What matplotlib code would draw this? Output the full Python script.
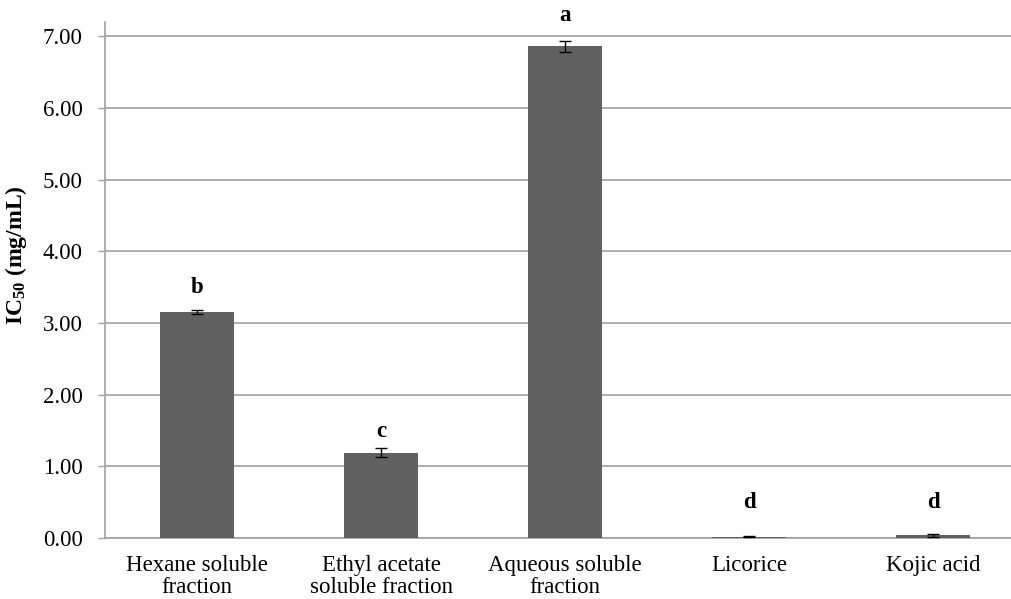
import matplotlib
matplotlib.use("Agg")
import matplotlib.pyplot as plt

plt.rcParams["mathtext.fontset"] = "custom"
plt.rcParams["mathtext.rm"] = "Liberation Serif:bold"
plt.rcParams["mathtext.it"] = "Liberation Serif:bold"
plt.rcParams["mathtext.bf"] = "Liberation Serif:bold"

categories = ["Hexane soluble\nfraction", "Ethyl acetate\nsoluble fraction",
              "Aqueous soluble\nfraction", "Licorice", "Kojic acid"]
values = [3.15, 1.19, 6.86, 0.02, 0.04]
errors = [0.03, 0.06, 0.08, 0.01, 0.02]
letters = ["b", "c", "a", "d", "d"]
yticks = [0, 1, 2, 3, 4, 5, 6, 7]

W, H = 1011, 599
fig = plt.figure(figsize=(W / 100, H / 100), dpi=100)
fig.patch.set_facecolor("white")
left, right, bottom, top = 105, 1025, 538, 22
ax = fig.add_axes([left / W, (H - bottom) / H, (right - left) / W, (bottom - top) / H])

serif = ["Liberation Serif", "DejaVu Serif"]
x = list(range(len(categories)))
ax.bar(x, values, width=0.4, color="#606060", zorder=3)
ax.errorbar(x, values, yerr=errors, fmt="none", ecolor="black",
            elinewidth=1.0, capsize=4, capthick=1.0, zorder=4)

letter_y = [3.49, 1.48, 7.29, 0.49, 0.49]
for xi, ly, lt in zip(x, letter_y, letters):
    ax.text(xi, ly, lt, ha="center", va="center", fontsize=16.5,
            fontweight="bold", family=serif, clip_on=False)

ax.set_xlim(-0.5, 4.5)
ax.set_ylim(0, 7.2)
ax.set_yticks(yticks)
ax.set_yticklabels([f"{v:.2f}" for v in yticks], family=serif, fontsize=16.5)
ax.set_xticks(x)
ax.set_xticklabels(categories, family=serif, fontsize=16.5, linespacing=1.08)
ax.tick_params(axis="x", length=0, pad=12)
ax.tick_params(axis="y", length=5, width=1, color="#a0a0a0", pad=11)
ax.yaxis.grid(True, color="#a0a0a0", linewidth=1.2, zorder=0)
ax.set_axisbelow(True)
for s in ["top", "right"]:
    ax.spines[s].set_visible(False)
ax.spines["left"].set_color("#a0a0a0")
ax.spines["left"].set_linewidth(1.2)
ax.spines["bottom"].set_color("#a0a0a0")
ax.spines["bottom"].set_linewidth(1.2)

ax.set_ylabel("IC$_{50}$ (mg/mL)", family=serif, fontsize=17, fontweight="bold")
ax.yaxis.set_label_coords(-0.083, 0.548)
fig.savefig("out.png", dpi=100)
